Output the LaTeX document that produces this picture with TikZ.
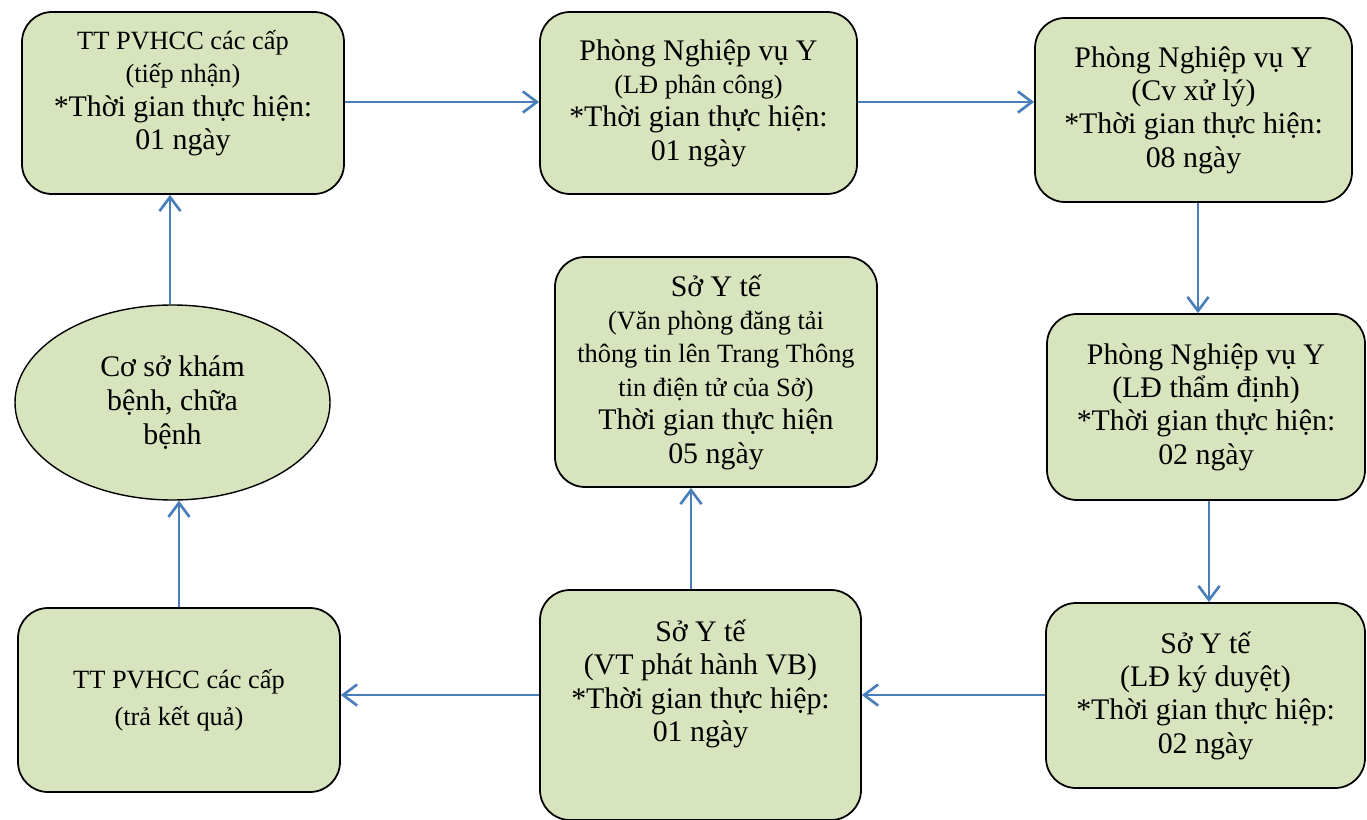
\documentclass[tikz,border=0pt]{standalone}
\usepackage{fontspec}
\setmainfont{Liberation Serif}
\usepackage{tikz}
\usetikzlibrary{arrows.meta,shapes.geometric,calc}

\definecolor{boxgreen}{HTML}{D7E4BD}
\definecolor{flowblue}{HTML}{4A7EBB}

\tikzset{
  box/.style={draw=black,line width=1pt,fill=boxgreen,rounded corners=0.6cm,
    inner sep=0pt,align=center,font=\fontsize{17}{19}\selectfont},
  oval/.style={draw=black,line width=0.8pt,fill=boxgreen,ellipse,
    inner sep=0pt,align=center,font=\fontsize{17}{19.5}\selectfont},
  flow/.style={draw=flowblue,line width=1.5pt,-{Straight Barb[length=8pt,width=12pt]}}
}
\newcommand{\sm}[1]{{\fontsize{15}{16.5}\selectfont #1}}

\begin{document}
\begin{tikzpicture}
\useasboundingbox (0,0) rectangle (27.34,-16.4);

% top row
\node[box,minimum width=6.44cm,minimum height=3.64cm] (tiepnhan) at (3.66,-2.06)
  {\sm{TT PVHCC các cấp}\\ \sm{(tiếp nhận)}\\ *Thời gian thực hiện:\\ 01 ngày\\[-4pt]};
\node[box,minimum width=6.34cm,minimum height=3.64cm] (phancong) at (13.97,-2.06)
  {Phòng Nghiệp vụ Y\\ \sm{(LĐ phân công)}\\ *Thời gian thực hiện:\\ 01 ngày};
\node[box,minimum width=6.34cm,minimum height=3.68cm] (xuly) at (23.87,-2.2)
  {Phòng Nghiệp vụ Y\\ (Cv xử lý)\\ *Thời gian thực hiện:\\ 08 ngày};

% middle row
\node[oval,minimum width=6.3cm,minimum height=3.9cm] (coso) at (3.45,-8.05)
  {Cơ sở khám\\ bệnh, chữa\\ bệnh};
\node[box,minimum width=6.44cm,minimum height=4.6cm] (dangtai) at (14.32,-7.44)
  {Sở Y tế\\ \sm{(Văn phòng đăng tải}\\ \sm{thông tin lên Trang Thông}\\ \sm{tin điện tử của Sở)}\\ Thời gian thực hiện\\ 05 ngày};
\node[box,minimum width=6.36cm,minimum height=3.72cm] (thamdinh) at (24.12,-8.14)
  {Phòng Nghiệp vụ Y\\ (LĐ thẩm định)\\ *Thời gian thực hiện:\\ 02 ngày};

% bottom row
\node[box,minimum width=6.44cm,minimum height=3.68cm] (traketqua) at (3.58,-14.0)
  {\sm{TT PVHCC các cấp}\\[2pt] \sm{(trả kết quả)}};
\node[box,minimum width=6.42cm,minimum height=4.6cm] (phathanh) at (14.01,-14.1)
  {Sở Y tế\\ (VT phát hành VB)\\ *Thời gian thực hiệp:\\ 01 ngày\\[0.3cm]};
\node[box,minimum width=6.38cm,minimum height=3.7cm] (kyduyet) at (24.11,-13.91)
  {Sở Y tế\\ (LĐ ký duyệt)\\ *Thời gian thực hiệp:\\ 02 ngày};

% connectors
\draw[flow] (tiepnhan.east |- 0,-2.04) -- (phancong.west |- 0,-2.04);
\draw[flow] (phancong.east |- 0,-2.04) -- (xuly.west |- 0,-2.04);
\draw[flow] ([xshift=0.09cm]xuly.south) -- ([xshift=0.09cm]xuly.south |- thamdinh.north);
\draw[flow] ([xshift=0.06cm]thamdinh.south) -- ([xshift=0.06cm]thamdinh.south |- kyduyet.north);
\draw[flow] (kyduyet.west |- 0,-13.9) -- (phathanh.east |- 0,-13.9);
\draw[flow] (phathanh.west |- 0,-13.9) -- (traketqua.east |- 0,-13.9);
\draw[flow] (traketqua.north) -- (traketqua.north |- coso.south);
\draw[flow] ([xshift=-0.05cm]coso.north) -- ([xshift=-0.05cm]coso.north |- tiepnhan.south);
\draw[flow] ([xshift=-0.19cm]phathanh.north) -- ([xshift=-0.19cm]phathanh.north |- dangtai.south);
\end{tikzpicture}
\end{document}
